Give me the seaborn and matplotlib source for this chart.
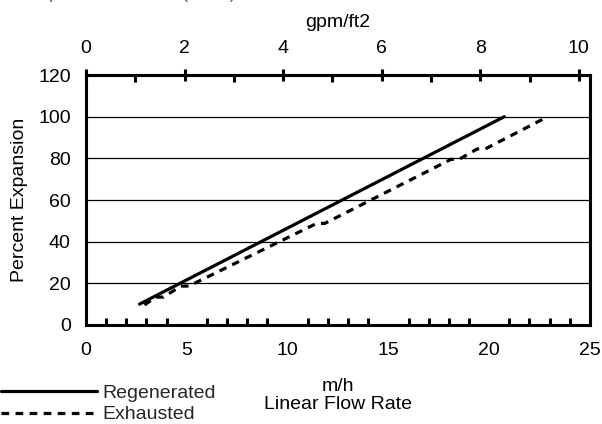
import numpy as np
import pandas as pd
import matplotlib
matplotlib.use("Agg")
import matplotlib.pyplot as plt
import seaborn as sns
from matplotlib.ticker import MultipleLocator
from matplotlib.lines import Line2D

# values
regen_x = [2.65, 20.75]
regen_y = [10, 100]
exh_x = [2.9, 3.45, 3.85, 4.7, 5.1, 11.45, 11.85, 18.1, 18.5, 19.4, 19.8, 22.8]
exh_y = [9.6, 13.4, 13.4, 18.7, 18.7, 48.8, 48.8, 79.5, 79.5, 84.5, 84.5, 99.5]
series_names = ["Regenerated", "Exhausted"]

GPM_PER_MH = 2.445  # m/h per gpm/ft2

df = pd.concat([
    pd.DataFrame({"rate": regen_x, "pct": regen_y, "state": series_names[0]}),
    pd.DataFrame({"rate": exh_x, "pct": exh_y, "state": series_names[1]}),
])

sns.set_theme(style="white")
plt.rcParams["font.family"] = ["Liberation Sans", "DejaVu Sans"]
FS = 14

fig = plt.figure(figsize=(6.02, 4.24), dpi=100)
ax = fig.add_axes([0.1429, 0.2335, 0.8371, 0.5895])

sns.lineplot(data=df, x="rate", y="pct", hue="state", style="state",
             palette=["black", "black"], dashes=[(None, None), (2.4, 2.0)],
             linewidth=2.3, sort=False, estimator=None, legend=False, ax=ax)

ax.set_xlim(0, 25)
ax.set_ylim(0, 120)
ax.xaxis.set_major_locator(MultipleLocator(5))
ax.xaxis.set_minor_locator(MultipleLocator(1))
ax.yaxis.set_major_locator(MultipleLocator(20))
for y in range(20, 120, 20):
    ax.axhline(y, color="black", lw=0.9, zorder=0)

for s in ax.spines.values():
    s.set_visible(True)
    s.set_color("black")
    s.set_linewidth(2.2)

ax.tick_params(axis="both", which="major", direction="inout", length=8,
               width=2.2, color="black", labelsize=FS, labelcolor="black")
ax.tick_params(axis="x", which="minor", direction="in", length=5,
               width=2.2, color="black", bottom=True)
ax.tick_params(axis="x", which="major", pad=8)
ax.tick_params(axis="y", which="major", pad=7)

ax.set_xlabel("m/h\nLinear Flow Rate", fontsize=FS, labelpad=14, color="black",
              linespacing=1.05)
ax.set_ylabel("Percent Expansion", fontsize=FS, color="black")
ax.yaxis.set_label_coords(-0.115, 0.5)

top = ax.secondary_xaxis("top", functions=(lambda v: v / GPM_PER_MH,
                                           lambda v: v * GPM_PER_MH))
top.xaxis.set_major_locator(MultipleLocator(2))
top.xaxis.set_minor_locator(MultipleLocator(1))
top.spines["top"].set_linewidth(2.2)
top.tick_params(which="major", direction="inout", length=8, width=2.2,
                color="black", labelsize=FS, labelcolor="black", pad=9)
top.tick_params(which="minor", direction="in", length=5, width=2.2,
                color="black")
top.set_xlabel("gpm/ft2", fontsize=FS, labelpad=9, color="black")

# legend in lower left
handles = [Line2D([], [], color="black", lw=2.3),
           Line2D([], [], color="black", lw=2.3, dashes=(2.4, 2.0))]
fig.legend(handles, series_names, loc="lower left",
           bbox_to_anchor=(-0.012, -0.017), frameon=False, fontsize=FS,
           handlelength=4.95, handletextpad=0.28, labelspacing=0.2,
           borderaxespad=0.0)

# heading cut off at the top edge of the picture
fig.text(0.02, 1.005, "Temperature: 25°C (77°F)", fontsize=FS, color="#666666",
         va="baseline", ha="left")

fig.savefig("out.png", dpi=100)
